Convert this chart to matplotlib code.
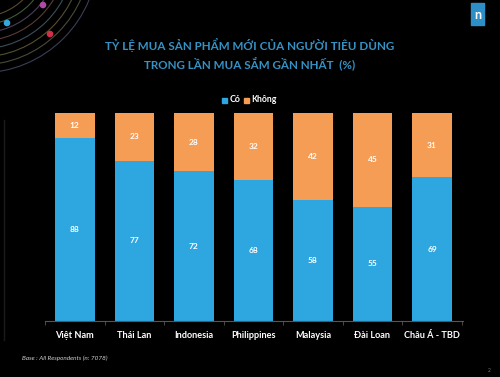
import numpy as np
import matplotlib
matplotlib.use('Agg')
import matplotlib.pyplot as plt
from matplotlib.patches import Rectangle, Arc

plt.rcParams['font.family'] = ['Lato', 'Noto Sans', 'DejaVu Sans']

# Data
countries = ['Việt Nam', 'Thái Lan', 'Indonesia', 'Philippines', 'Malaysia', 'Đài Loan', 'Châu Á - TBD']
co = [88, 77, 72, 68, 58, 55, 69]
khong = [12, 23, 28, 32, 42, 45, 31]
series_names = ['Có', 'Không']

title = 'TỶ LỆ MUA SẢN PHẨM MỚI CỦA NGƯỜI TIÊU DÙNG\nTRONG LẦN MUA SẮM GẦN NHẤT  (%)'
base_note = 'Base : All Respondents (n: 7078)'

blue = '#2ea6e0'
orange = '#f59c55'
title_col = '#3592c4'

W, H = 500, 377
fig = plt.figure(figsize=(W / 100, H / 100), dpi=100, facecolor='black')

# decoration layer in pixel coordinates
deco = fig.add_axes([0, 0, 1, 1], zorder=0)
deco.set_xlim(0, W)
deco.set_ylim(H, 0)
deco.axis('off')
arc_cols = ['#5b4a2a', '#3f5a3a', '#4a3f5a', '#5a3a3a', '#3a4f5a', '#55502e', '#4a4a3a', '#3a3f55']
for i, c in enumerate(arc_cols):
    r = 62 + i * 8
    deco.add_patch(Arc((-20, -45), 2 * r, 2 * r, theta1=0, theta2=90, color=c, lw=0.8))
deco.scatter([7, 43, 50], [23, 5, 34], s=[14, 14, 14], c=['#35a8e0', '#b04aa8', '#d0304a'], zorder=3)
deco.add_patch(Rectangle((471, 3), 13, 22, color='#2e8fc8'))
deco.text(477.5, 15, 'n', color='white', fontsize=9, fontweight='bold', ha='center', va='center')
deco.plot([4, 4], [120, 340], color='#1a1a1a', lw=1)
deco.text(250, 54, title, color=title_col, fontsize=8.4, fontweight='bold',
          ha='center', va='center', linespacing=1.4)
deco.text(22, 358, base_note, color='#cfcfcf', fontsize=4.6, style='italic', va='center')
deco.text(488, 370, '2', color='#777777', fontsize=3.5, va='center')

# legend
deco.add_patch(Rectangle((222, 97.5), 5, 5, color=blue))
deco.text(229.5, 100, series_names[0], color='white', fontsize=6.3, va='center', fontweight='bold')
deco.add_patch(Rectangle((244, 97.5), 5, 5, color=orange))
deco.text(251.5, 100, series_names[1], color='white', fontsize=6.3, va='center', fontweight='bold')

# main chart
ax = fig.add_axes([45 / W, 1 - 321 / H, (463 - 45) / W, (321 - 113) / H], zorder=1)
ax.set_facecolor('none')
x = np.arange(len(countries))
wbar = 0.665
ax.bar(x, co, width=wbar, color=blue)
ax.bar(x, khong, width=wbar, bottom=co, color=orange)
for xi, a, b in zip(x, co, khong):
    ax.text(xi, a / 2, str(a), color='white', ha='center', va='center', fontsize=6, fontweight='bold')
    ax.text(xi, a + b / 2, str(b), color='white', ha='center', va='center', fontsize=6, fontweight='bold')

ax.set_xlim(-0.5, 6.52)
ax.set_ylim(0, 100)
ax.set_yticks([])
for s in ['top', 'right', 'left']:
    ax.spines[s].set_visible(False)
ax.spines['bottom'].set_color('#555555')
ax.spines['bottom'].set_linewidth(0.8)
ax.set_xticks(x)
ax.set_xticklabels(countries, color='white', fontsize=6.6, fontweight='bold')
ax.tick_params(axis='x', which='major', length=0, pad=7)
ax.set_xticks(np.arange(-0.5, 7, 1), minor=True)
ax.tick_params(axis='x', which='minor', length=3, color='#555555')

fig.savefig('out.png', dpi=100, facecolor='black')
